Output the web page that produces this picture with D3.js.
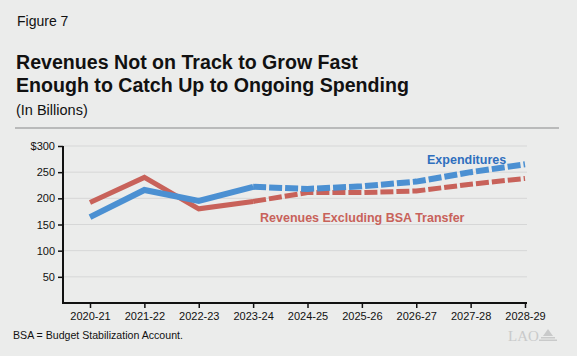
<!DOCTYPE html>
<html><head><meta charset="utf-8">
<script src="https://cdn.jsdelivr.net/npm/d3@7"></script>
<style>
html,body{margin:0;padding:0;background:#ebeceb;}
svg{display:block;font-family:"Liberation Sans",Arial,sans-serif;}
</style></head>
<body>
<svg id="c" width="577" height="356"></svg>
<script>
const years = ["2020-21","2021-22","2022-23","2023-24","2024-25","2025-26","2026-27","2027-28","2028-29"];
const expenditures = [164, 216, 195, 222, 218, 223, 232, 250, 265];
const revenues = [192, 240, 180, 194, 211, 211, 214, 227, 238];
const yTicks = [50, 100, 150, 200, 250, 300];
const actualCount = 4; // first 4 years solid, rest projected (dashed)

const svg = d3.select("#c");
const W = 577, H = 356;
svg.append("rect").attr("width", W).attr("height", H).attr("fill", "#ebeceb");

// Header
svg.append("text").attr("x", 17).attr("y", 26).attr("font-size", 14).attr("fill", "#111").text("Figure 7");
svg.append("text").attr("x", 16).attr("y", 69).attr("font-size", 19.6).attr("font-weight", "bold").attr("fill", "#111").text("Revenues Not on Track to Grow Fast");
svg.append("text").attr("x", 16).attr("y", 92).attr("font-size", 19.6).attr("font-weight", "bold").attr("fill", "#111").text("Enough to Catch Up to Ongoing Spending");
svg.append("text").attr("x", 16).attr("y", 115).attr("font-size", 14.5).attr("fill", "#111").text("(In Billions)");
svg.append("line").attr("x1", 15).attr("x2", 559).attr("y1", 128).attr("y2", 128).attr("stroke", "#b9baba").attr("stroke-width", 2);

const x = d3.scalePoint().domain(years).range([90, 525]);
const y = d3.scaleLinear().domain([0, 300]).range([303, 146]);

// gridlines
svg.append("g").selectAll("line").data(yTicks).join("line")
  .attr("x1", 63).attr("x2", 527).attr("y1", d => y(d)).attr("y2", d => y(d))
  .attr("stroke", "#d6d7d7").attr("stroke-width", 1);

// y axis
const yAxis = svg.append("g").attr("transform", "translate(63,0)")
  .call(d3.axisLeft(y).tickValues(yTicks).tickSize(5).tickFormat(d => d === 300 ? "$300" : d));
yAxis.select(".domain").attr("d", `M0,${y(300)}V${y(0)}`).attr("stroke", "#111").attr("stroke-width", 2);
yAxis.selectAll(".tick line").attr("stroke", "#111").attr("stroke-width", 1.5);
yAxis.selectAll(".tick text").attr("font-size", 11).attr("fill", "#111").attr("x", -8)
  .attr("font-family", "Liberation Sans, Arial, sans-serif");

// x axis
const xAxis = svg.append("g").attr("transform", `translate(0,${y(0)})`)
  .call(d3.axisBottom(x).tickSize(5).tickSizeOuter(0));
xAxis.select(".domain").attr("d", `M62,0H527`).attr("stroke", "#111").attr("stroke-width", 2);
xAxis.selectAll(".tick line").attr("stroke", "#111").attr("stroke-width", 1.5);
xAxis.selectAll(".tick text").attr("font-size", 11).attr("fill", "#111").attr("y", 9)
  .attr("font-family", "Liberation Sans, Arial, sans-serif");

const line = d3.line().x((d, i) => x(years[d.i])).y(d => y(d.v));
function drawSeries(vals, color, width) {
  const pts = vals.map((v, i) => ({i, v}));
  svg.append("path").datum(pts.slice(0, actualCount)).attr("d", line)
    .attr("fill", "none").attr("stroke", color).attr("stroke-width", width).attr("stroke-linejoin", "miter");
  svg.append("path").datum(pts.slice(actualCount - 1)).attr("d", line)
    .attr("fill", "none").attr("stroke", color).attr("stroke-width", width).attr("stroke-dasharray", "13,3");
}
drawSeries(revenues, "#c8625a", 5);
drawSeries(expenditures, "#4b90d2", 6);

// labels
svg.append("text").attr("x", 427).attr("y", 164).attr("font-size", 12.5).attr("font-weight", "bold").attr("fill", "#2f6fbe").text("Expenditures");
svg.append("text").attr("x", 260).attr("y", 222).attr("font-size", 12.5).attr("font-weight", "bold").attr("fill", "#c8625a").text("Revenues Excluding BSA Transfer");

// footnote
svg.append("text").attr("x", 13).attr("y", 339).attr("font-size", 10.6).attr("fill", "#111").text("BSA = Budget Stabilization Account.");

// logo
svg.append("text").attr("x", 508).attr("y", 341).attr("font-size", 15).attr("font-family", "Liberation Serif, serif").attr("fill", "#c9caca").text("LAO");
const lg = svg.append("g").attr("fill", "#c9caca");
lg.append("path").attr("d", "M548,329 L543,336 L553,336 Z");
lg.append("rect").attr("x", 541).attr("y", 337).attr("width", 14).attr("height", 1.5);
lg.append("rect").attr("x", 539).attr("y", 339.5).attr("width", 18).attr("height", 1.5);
</script>
</body></html>
